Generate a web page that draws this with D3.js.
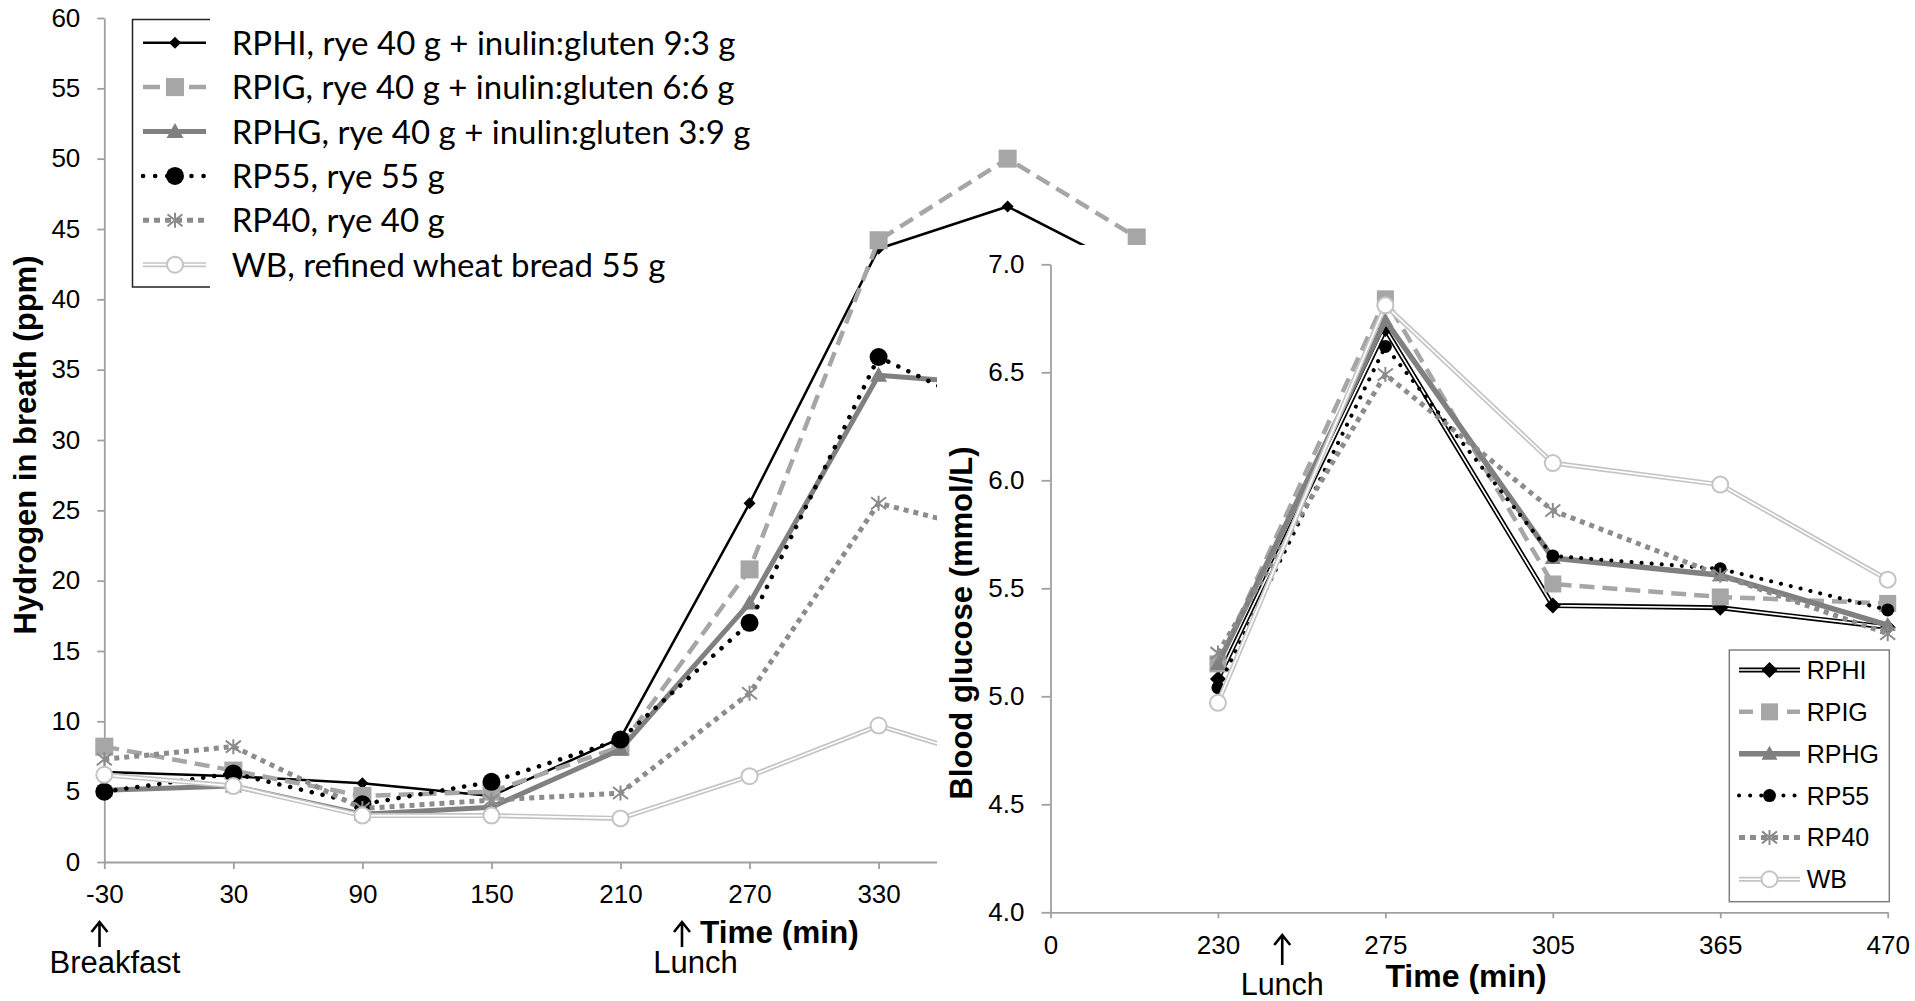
<!DOCTYPE html>
<html>
<head>
<meta charset="utf-8">
<script src="https://cdn.jsdelivr.net/npm/d3@7"></script>
<style>
  body { margin: 0; background: #fff; }
  svg { display: block; }
  .tick text { font-family: "Liberation Sans", Arial, sans-serif; font-size: 26px; fill: #000; }
</style>
</head>
<body>
<svg id="fig" width="1915" height="1001"></svg>
<script>
// ---- hydrogen in breath (ppm), left panel ----
var h2Times = [-30, 30, 90, 150, 210, 270, 330, 390, 450];
var h2RPHI = [6.4, 6.1, 5.6, 4.7, 8.8, 25.5, 43.6, 46.6, 41.9];
var h2RPIG = [8.2, 6.5, 4.7, 5.0, 8.2, 20.8, 44.2, 50.0, 44.4];
var h2RPHG = [5.1, 5.4, 3.4, 3.9, 8.0, 18.4, 34.6, 33.9, null];
var h2RP55 = [5.0, 6.3, 4.1, 5.7, 8.7, 17.0, 35.9, 31.5, null];
var h2RP40 = [7.3, 8.2, 3.8, 4.4, 4.9, 12.0, 25.5, 23.2, null];
var h2WB   = [6.2, 5.4, 3.3, 3.3, 3.1, 6.1, 9.7, 6.9, null];
var h2Ticks = [0, 5, 10, 15, 20, 25, 30, 35, 40, 45, 50, 55, 60];
var h2Labels = ["RPHI, rye 40 g + inulin:gluten 9:3 g",
                "RPIG, rye 40 g + inulin:gluten 6:6 g",
                "RPHG, rye 40 g + inulin:gluten 3:9 g",
                "RP55, rye 55 g",
                "RP40, rye 40 g",
                "WB, refined wheat bread 55 g"];

// ---- blood glucose (mmol/L), right panel ----
var glcTimes = ["0", "230", "275", "305", "365", "470"];
var glcRPHI = [null, 5.08, 6.70, 5.42, 5.41, 5.32];
var glcRPIG = [null, 5.15, 6.84, 5.52, 5.46, 5.43];
var glcRPHG = [null, 5.15, 6.74, 5.64, 5.56, 5.33];
var glcRP55 = [null, 5.04, 6.62, 5.65, 5.59, 5.40];
var glcRP40 = [null, 5.20, 6.49, 5.86, 5.56, 5.29];
var glcWB   = [null, 4.97, 6.81, 6.08, 5.98, 5.54];
var glcTicks = [4.0, 4.5, 5.0, 5.5, 6.0, 6.5, 7.0];
var glcLabels = ["RPHI", "RPIG", "RPHG", "RP55", "RP40", "WB"];

var svg = d3.select("#fig");
var axisColor = "#a0a0a0";
var arial = "'Liberation Sans', Arial, sans-serif";

function lineStyle(sel, st) {
    sel.attr("fill", "none")
        .attr("stroke", st.color)
        .attr("stroke-width", st.width)
        .attr("stroke-dasharray", st.dash || null)
        .attr("stroke-linecap", st.cap || "butt")
        .attr("stroke-linejoin", "round");
}

function drawPath(g, d, st, dash) {
    g.append("path").attr("d", d).call(lineStyle, st)
        .attr("stroke-dasharray", dash || st.dash || null);
    if (st.dbl) {
        g.append("path").attr("d", d)
            .attr("fill", "none").attr("stroke", "#fff")
            .attr("stroke-width", st.width * 0.34);
    }
}

function drawMarker(g, st, x, y) {
    var h = st.size / 2;
    var m = g.append("g").attr("transform", "translate(" + x + "," + y + ")");
    if (st.marker == "diamond") {
        m.append("path").attr("d", "M0," + (-h) + "L" + h + ",0L0," + h + "L" + (-h) + ",0Z").attr("fill", st.mcolor);
    } else if (st.marker == "square") {
        m.append("rect").attr("x", -h).attr("y", -h).attr("width", 2 * h).attr("height", 2 * h).attr("fill", st.mcolor);
    } else if (st.marker == "triangle") {
        m.append("path").attr("d", "M0," + (-h) + "L" + h + "," + (h * 0.75) + "L" + (-h) + "," + (h * 0.75) + "Z").attr("fill", st.mcolor);
    } else if (st.marker == "circle") {
        m.append("circle").attr("r", h).attr("fill", st.mcolor);
    } else if (st.marker == "star") {
        m.append("path")
            .attr("d", "M" + (-h) + "," + (-h * 0.8) + "L" + h + "," + (h * 0.8) +
                "M" + (-h) + "," + (h * 0.8) + "L" + h + "," + (-h * 0.8) +
                "M0," + (-h) + "V" + h)
            .attr("fill", "none").attr("stroke", st.mcolor).attr("stroke-width", 2);
    } else if (st.marker == "ocircle") {
        m.append("circle").attr("r", h).attr("fill", "#fff")
            .attr("stroke", st.mcolor).attr("stroke-width", 2);
    }
}

function arrow(g, x, y1, y2) {
    g.append("path")
        .attr("d", "M" + x + "," + y2 + "V" + y1 + "M" + (x - 8) + "," + (y1 + 10) + "L" + x + "," + y1 + "L" + (x + 8) + "," + (y1 + 10))
        .attr("fill", "none").attr("stroke", "#000").attr("stroke-width", 2.6);
}

function styleAxis(ax) {
    ax.select(".domain").attr("stroke", axisColor).attr("stroke-width", 1.8);
    ax.selectAll(".tick line").attr("stroke", axisColor).attr("stroke-width", 1.8);
}

// ================= left panel =================
var leftStyles = [
    {color: "#000", width: 2.5, marker: "diamond", mcolor: "#000", size: 12},
    {color: "#a6a6a6", width: 4.5, dash: "15,8", marker: "square", mcolor: "#a6a6a6", size: 18},
    {color: "#808080", width: 5, marker: "triangle", mcolor: "#808080", size: 17},
    {color: "#000", width: 4.5, dash: "0.1,11", cap: "round", marker: "circle", mcolor: "#000", size: 18},
    {color: "#8c8c8c", width: 5, dash: "5,5", marker: "star", mcolor: "#8c8c8c", size: 15},
    {color: "#c4c4c4", width: 5, dbl: true, marker: "ocircle", mcolor: "#c4c4c4", size: 16}
];
var h2Values = [h2RPHI, h2RPIG, h2RPHG, h2RP55, h2RP40, h2WB];

var left = svg.append("g");
var x1 = d3.scaleLinear().domain([-30, 450]).range([104.3, 1136.7]);
var y1 = d3.scaleLinear().domain([0, 60]).range([862, 18]);

var yAx1 = left.append("g")
    .attr("transform", "translate(104.3,0)")
    .call(d3.axisLeft(y1).tickValues(h2Ticks).tickFormat(function(d) { return String(d); })
        .tickSize(7).tickSizeOuter(0).tickPadding(17));
styleAxis(yAx1);

var xAx1 = left.append("g")
    .attr("transform", "translate(0,862)")
    .call(d3.axisBottom(x1).tickValues(h2Times).tickFormat(function(d) { return String(d); })
        .tickSize(7).tickSizeOuter(0).tickPadding(15.5));
styleAxis(xAx1);

var line1 = d3.line()
    .defined(function(d) { return d[1] != null; })
    .x(function(d) { return x1(d[0]); })
    .y(function(d) { return y1(d[1]); });

h2Values.forEach(function(vals, i) {
    var pts = h2Times.map(function(t, j) { return [t, vals[j]]; });
    var g = left.append("g");
    drawPath(g, line1(pts), leftStyles[i]);
    pts.forEach(function(p) {
        if (p[1] != null) drawMarker(g, leftStyles[i], x1(p[0]), y1(p[1]));
    });
});

left.append("text")
    .attr("transform", "translate(35.5,445) rotate(-90)")
    .attr("text-anchor", "middle")
    .attr("font-family", arial).attr("font-weight", "bold").attr("font-size", 31)
    .text("Hydrogen in breath (ppm)");

// legend (left)
left.append("path")
    .attr("d", "M210,19.5H132.5V287H210")
    .attr("fill", "none").attr("stroke", "#222").attr("stroke-width", 1.5);
h2Labels.forEach(function(lab, i) {
    var cy = 42.7 + i * 44.4;
    var st = leftStyles[i];
    var g = left.append("g");
    var dash = null;
    if (i == 1) dash = "17,29";
    if (i == 3) dash = "0.1,12";
    if (i == 4) dash = "6,5";
    drawPath(g, "M143," + cy + "H206", st, dash);
    drawMarker(g, st, 175, cy);
    left.append("text")
        .attr("x", 231.7).attr("y", cy + 12)
        .attr("font-family", "Lato, 'Open Sans', sans-serif").attr("font-size", 33)
        .attr("fill", "#000")
        .text(lab);
});

// annotations under the left x axis
arrow(left, 99.5, 922, 947);
left.append("text").attr("x", 115).attr("y", 973).attr("text-anchor", "middle")
    .attr("font-family", arial).attr("font-size", 31).text("Breakfast");
arrow(left, 682, 922, 947);
left.append("text").attr("x", 695.5).attr("y", 973).attr("text-anchor", "middle")
    .attr("font-family", arial).attr("font-size", 31).text("Lunch");
left.append("text").attr("x", 700).attr("y", 943).attr("text-anchor", "start")
    .attr("font-family", arial).attr("font-weight", "bold").attr("font-size", 31.5).text("Time (min)");

// ================= right panel =================
var right = svg.append("g");
right.append("rect")
    .attr("x", 937).attr("y", 245).attr("width", 978).attr("height", 756)
    .attr("fill", "#fff");

var rightStyles = [
    {color: "#000", width: 5, dbl: true, marker: "diamond", mcolor: "#000", size: 16},
    {color: "#a6a6a6", width: 4.5, dash: "15,8", marker: "square", mcolor: "#a6a6a6", size: 17},
    {color: "#808080", width: 5.5, marker: "triangle", mcolor: "#808080", size: 16},
    {color: "#000", width: 4, dash: "0.1,10", cap: "round", marker: "circle", mcolor: "#000", size: 13},
    {color: "#8c8c8c", width: 5, dash: "5,5", marker: "star", mcolor: "#8c8c8c", size: 15},
    {color: "#c4c4c4", width: 5, dbl: true, marker: "ocircle", mcolor: "#c4c4c4", size: 16}
];
var glcValues = [glcRPHI, glcRPIG, glcRPHG, glcRP55, glcRP40, glcWB];

var x2 = d3.scalePoint().domain(glcTimes).range([1050.5, 1887.7]).padding(0);
var y2 = d3.scaleLinear().domain([4, 7]).range([912.3, 264.3]);

var yAx2 = right.append("g")
    .attr("transform", "translate(1050.5,0)")
    .call(d3.axisLeft(y2).tickValues(glcTicks).tickFormat(d3.format(".1f")).tickSize(9).tickSizeOuter(0).tickPadding(17));
styleAxis(yAx2);

var xAx2 = right.append("g")
    .attr("transform", "translate(0,912.3)")
    .call(d3.axisBottom(x2).tickSize(6).tickSizeOuter(0).tickPadding(17.5));
styleAxis(xAx2);

var line2 = d3.line()
    .defined(function(d) { return d[1] != null; })
    .x(function(d) { return x2(d[0]); })
    .y(function(d) { return y2(d[1]); });

glcValues.forEach(function(vals, i) {
    var pts = glcTimes.map(function(t, j) { return [t, vals[j]]; });
    var g = right.append("g");
    drawPath(g, line2(pts), rightStyles[i]);
    pts.forEach(function(p) {
        if (p[1] != null) drawMarker(g, rightStyles[i], x2(p[0]), y2(p[1]));
    });
});

right.append("text")
    .attr("transform", "translate(972,623) rotate(-90)")
    .attr("text-anchor", "middle")
    .attr("font-family", arial).attr("font-weight", "bold").attr("font-size", 31)
    .text("Blood glucose (mmol/L)");

var lunchX = x2("230") + 0.384 * x2.step();
arrow(right, lunchX, 935, 965);
right.append("text").attr("x", lunchX).attr("y", 995).attr("text-anchor", "middle")
    .attr("font-family", arial).attr("font-size", 30.5).text("Lunch");
right.append("text").attr("x", 1466).attr("y", 987).attr("text-anchor", "middle")
    .attr("font-family", arial).attr("font-weight", "bold").attr("font-size", 32).text("Time (min)");

// legend (right)
right.append("rect")
    .attr("x", 1729.3).attr("y", 650).attr("width", 160).attr("height", 251.7)
    .attr("fill", "#fff").attr("stroke", "#808080").attr("stroke-width", 1.5);
glcLabels.forEach(function(lab, i) {
    var cy = 670 + i * 41.85;
    var st = rightStyles[i];
    var g = right.append("g");
    var dash = null;
    if (i == 1) dash = "14,34";
    if (i == 3) dash = "0.1,11";
    if (i == 4) dash = "6,5";
    drawPath(g, "M1739," + cy + "H1800", st, dash);
    drawMarker(g, st, 1769.5, cy);
    right.append("text")
        .attr("x", 1806.7).attr("y", cy + 9)
        .attr("font-family", arial).attr("font-size", 25)
        .attr("fill", "#000")
        .text(lab);
});
</script>
</body>
</html>
